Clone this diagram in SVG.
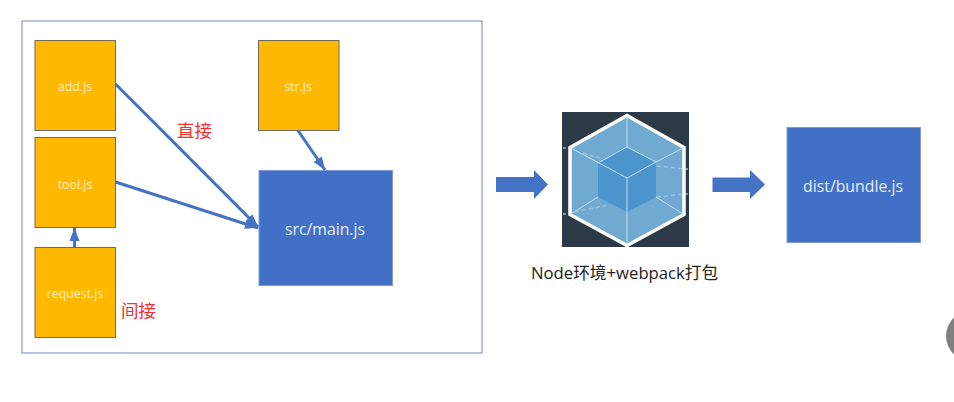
<svg xmlns="http://www.w3.org/2000/svg" width="954" height="402" viewBox="0 0 954 402">
<style>
.y{fill:#ffb900;stroke:#6f6a55;stroke-width:1}
.b{fill:#4270c6;stroke:#7f9bd0;stroke-width:1}
.t{font-family:"Open Sans","Noto Sans","Liberation Sans",sans-serif;text-anchor:middle}
.w{fill:#ffedc0;font-size:12.4px}
.l{fill:#e6eefa;font-size:15.800px}
.r{fill:#f23030;font-size:17.500px;font-family:"Noto Sans CJK SC",sans-serif;font-weight:400}
.c{fill:none;stroke:#4472c4;stroke-width:3}
.h{fill:#4472c4;stroke:none}
</style>
<defs>
<marker id="a" markerUnits="userSpaceOnUse" markerWidth="14" markerHeight="12" refX="13" refY="5" orient="auto" viewBox="0 0 14 10"><path d="M0 0L13 5L0 10Z" fill="#4472c4"/></marker>
</defs>
<rect width="954" height="402" fill="#fff"/>
<rect id="frame" x="22" y="21" width="460" height="332" fill="#fff" stroke="#7189b8" stroke-width="1"/>
<g id="add"><rect class="y" x="35" y="40.500" width="80.500" height="90"/><text class="t w" x="75" y="90.500">add.js</text></g>
<g id="tool"><rect class="y" x="35" y="137.500" width="80.500" height="90"/><text class="t w" x="75" y="188.500">tool.js</text></g>
<g id="request"><rect class="y" x="35" y="247.500" width="80.500" height="90"/><text class="t w" x="75" y="298">request.js</text></g>
<g id="str"><rect class="y" x="258.500" y="40.500" width="80.500" height="90"/><text class="t w" x="298" y="90.500">str.js</text></g>
<g id="main"><rect class="b" x="259" y="170.500" width="133.500" height="115"/><text class="t l" x="325" y="234.500">src/main.js</text></g>
<g id="bundle"><rect class="b" x="787" y="127.500" width="133.500" height="115"/><text class="t l" x="853" y="191.500">dist/bundle.js</text></g>
<g id="connectors">
<path class="c" d="M115.500 84L258 227" marker-end="url(#a)"/>
<path class="c" d="M115.500 182L258 228" marker-end="url(#a)"/>
<path class="c" d="M74.500 247.500V228" marker-end="url(#a)"/>
<path class="c" d="M298 130.500L325 170" marker-end="url(#a)"/>
</g>
<path class="h" d="M496 177H534V170L548 184.500L534 199V192H496Z"/>
<path class="h" d="M712.500 177.500H750V170L765 184.500L750 199V192H712.500Z"/>
<text class="r" x="177" y="137">直接</text>
<text class="r" x="121" y="317">间接</text>
<g id="webpack">
<rect x="562" y="112" width="127" height="135" fill="#2b3a46"/>
<path d="M563 148H566M563 214H566M685 169H688M685 194H688" stroke="#8fb5cc" stroke-width="1.500"/>
<path d="M627 115.500L684 147.500V214.500L627 245.500L570 214.500V147.500Z" fill="#70aad0" stroke="#fff" stroke-width="3.500" stroke-linejoin="miter"/>
<path d="M627 147L656 162V197L627 212L598 197V163Z" fill="#4b94cc"/>
<path d="M627 115.500V147M684 147.500L656 162M684 214.500L656 197M627 245.500V212M570 214.500L598 197M570 147.500L627 178L656 162M627 178V212M598 163L627 147L656 162" fill="none" stroke="#c2deee" stroke-width="1"/>
<path d="M657 166L685 169M657 197L685 194M575 212L608 205M583 153L600 158" fill="none" stroke="#9cc5dd" stroke-width="1.500" stroke-dasharray="4 3"/>
</g>
<text x="531" y="279" font-size="16.700" fill="#222" font-family="'Open Sans','Noto Sans CJK SC',sans-serif">Node环境+webpack打包</text>
<path d="M954 317.500A25.400 25.400 0 0 0 954 354.500Z" fill="#808080"/>
</svg>
